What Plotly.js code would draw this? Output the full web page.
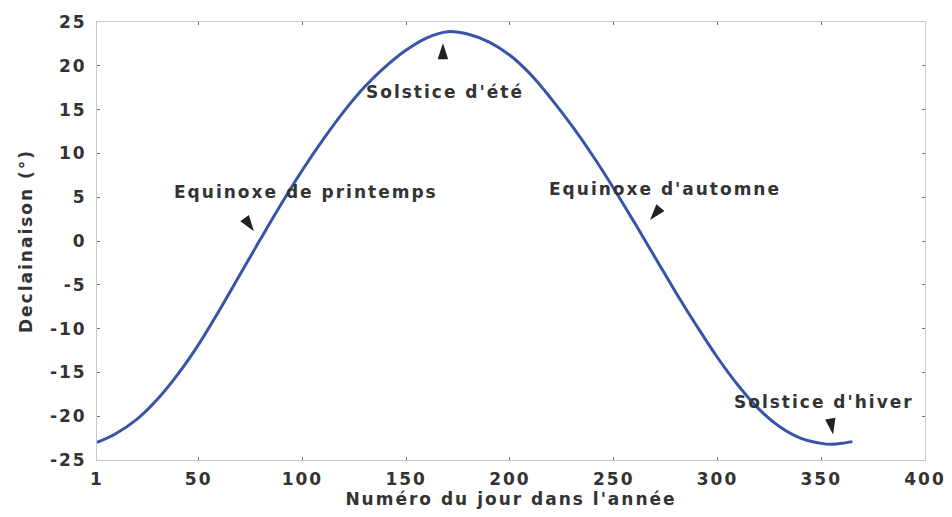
<!DOCTYPE html>
<html>
<head>
<meta charset="utf-8">
<script src="https://cdn.plot.ly/plotly-3.0.1.min.js"></script>
<style>
html, body { margin: 0; padding: 0; background: #fff; }
#chart { width: 952px; height: 517px; }
#chart svg text { letter-spacing: 2px; }
</style>
</head>
<body>
<div id="chart"></div>
<script>
// Day of year (x) and solar declination in degrees (y)
const days = [1, 10, 20, 30, 40, 50, 60, 70, 80, 90, 100, 110, 120, 130, 140, 150, 160, 170, 180, 190, 200, 210, 220, 230, 240, 250, 260, 270, 280, 290, 300, 310, 320, 330, 340, 350, 355, 360, 365];
const declination = [-23.0, -22.0, -20.4, -18.1, -15.2, -11.8, -7.9, -3.8, 0.3, 4.3, 8.1, 11.6, 14.8, 17.6, 19.9, 21.8, 23.2, 23.9, 23.6, 22.7, 21.2, 19.0, 16.2, 13.1, 9.7, 6.0, 2.1, -1.9, -5.9, -9.7, -13.3, -16.5, -19.2, -21.2, -22.5, -23.1, -23.2, -23.1, -22.9];

const xTicks = [1, 50, 100, 150, 200, 250, 300, 350, 400];
const yTicks = [-25, -20, -15, -10, -5, 0, 5, 10, 15, 20, 25];

// Annotation labels and the arrowheads pointing at the curve
const labelTexts = ["Equinoxe de printemps", "Solstice d'été", "Equinoxe d'automne", "Solstice d'hiver"];
const labelX = [101.7, 168.7, 274.7, 351.4];
const labelY = [5.6, 17.0, 5.9, -18.4];
const arrowX = [76.6, 167.7, 267.5, 355.7];
const arrowY = [1.1, 22.6, 2.4, -22.1];
const arrowAngle = [145, 0, 220, 170];

const textFont = {family: 'DejaVu Sans, Arial, sans-serif', size: 17, color: '#333333', weight: 'bold'};

const annotations = labelTexts.map((t, i) => ({
  x: labelX[i], y: labelY[i], xref: 'x', yref: 'y',
  text: '<b>' + t + '</b>', showarrow: false,
  font: textFont
}));

const curve = {
  x: days, y: declination, type: 'scatter', mode: 'lines',
  line: {color: '#3854a8', width: 3, shape: 'spline'},
  hoverinfo: 'x+y'
};

const heads = {
  x: arrowX, y: arrowY, type: 'scatter', mode: 'markers',
  marker: {symbol: 'arrow', size: 17, angle: arrowAngle, color: '#222222', line: {width: 0}},
  hoverinfo: 'skip'
};

const axisCommon = {
  showgrid: false, zeroline: false, showline: true, linecolor: '#c8c8c8', linewidth: 1,
  mirror: 'ticks', ticks: 'inside', ticklen: 3, tickcolor: '#777777',
  tickfont: {family: 'DejaVu Sans, Arial, sans-serif', size: 17, color: '#333333', weight: 'bold'}
};

const layout = {
  width: 952, height: 517,
  margin: {l: 97, r: 27, t: 22, b: 57},
  paper_bgcolor: '#ffffff', plot_bgcolor: '#ffffff',
  showlegend: false,
  xaxis: Object.assign({}, axisCommon, {
    range: [1, 400], tickmode: 'array', tickvals: xTicks, ticktext: xTicks.map(String),
    ticklabelstandoff: 4,
    title: {text: "<b>Numéro du jour dans l'année</b>", standoff: 4,
      font: {family: 'DejaVu Sans, Arial, sans-serif', size: 17, color: '#333333'}}
  }),
  yaxis: Object.assign({}, axisCommon, {
    range: [-25, 25], tickmode: 'array', tickvals: yTicks, ticktext: yTicks.map(String),
    ticklabelstandoff: 6,
    title: {text: '<b>Declainaison (°)</b>', standoff: 18,
      font: {family: 'DejaVu Sans, Arial, sans-serif', size: 17, color: '#333333'}}
  }),
  annotations: annotations
};

Plotly.newPlot('chart', [curve, heads], layout, {displayModeBar: false, staticPlot: true});
</script>
</body>
</html>
